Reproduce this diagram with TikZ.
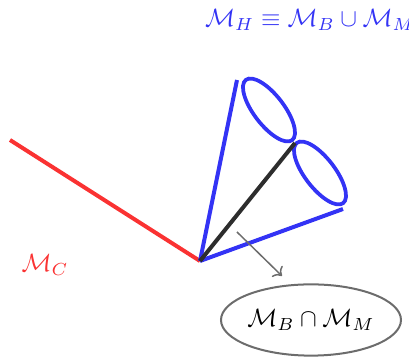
\documentclass[tikz,border=0pt]{standalone}
\usepackage{amsmath}
\usepackage{amssymb}
\usepackage{xcolor}
\usepackage{tikz}
\usetikzlibrary{
	arrows.meta,
	shapes.geometric,
	positioning
}
\definecolor{ConeBlue}{RGB}{51,51,245}
\definecolor{CRed}{RGB}{250,50,50}
\definecolor{AxisBlack}{RGB}{45,45,45}

\begin{document}
\begin{tikzpicture}[x=0.4pt, y=0.4pt,
		cone/.style={ConeBlue, line width=1.6pt},
		rim/.style={ConeBlue, line width=1.5pt, x radius=38, y radius=15}]
		\useasboundingbox (0,0) rectangle (409,360);
		
		% points of the cone
		\coordinate (O) at (200,99);
		\coordinate (T) at (237,280);
		\coordinate (J) at (295,217);
		\coordinate (R) at (343,151);
		\coordinate (L) at (10,220);
		
		\draw[CRed, line width=1.6pt] (L) -- (O);
		\node[CRed] (mc) at (45,95) {$\mathcal{M}_C$};
		
		\draw[cone] (O) -- (T);
		\draw[cone] (O) -- (R);
		\draw[rim, rotate around={-52.5:(269,250)}] (269,250) ellipse [];
		\draw[rim, rotate around={-52.5:(320,187)}] (320,187) ellipse [];
		\draw[AxisBlack, line width=1.6pt] (O) -- (J);
		
		\node[ConeBlue] (mh) at (310,340) {$\mathcal{M}_H \equiv \mathcal{M}_B \cup \mathcal{M}_M$};
		
		% intersection
		\node[draw=gray!85!black, line width=0.8pt, ellipse, minimum width=72pt, minimum height=28.5pt, inner sep=0pt] (bm) at (311,40) {$\mathcal{M}_B \cap \mathcal{M}_M$};
		\coordinate (s) at (237,128);
		\coordinate (e) at (282,84);
		\draw[->, gray!85!black, line width=0.6pt] (s) -- (e);
		
	\end{tikzpicture}
\end{document}
